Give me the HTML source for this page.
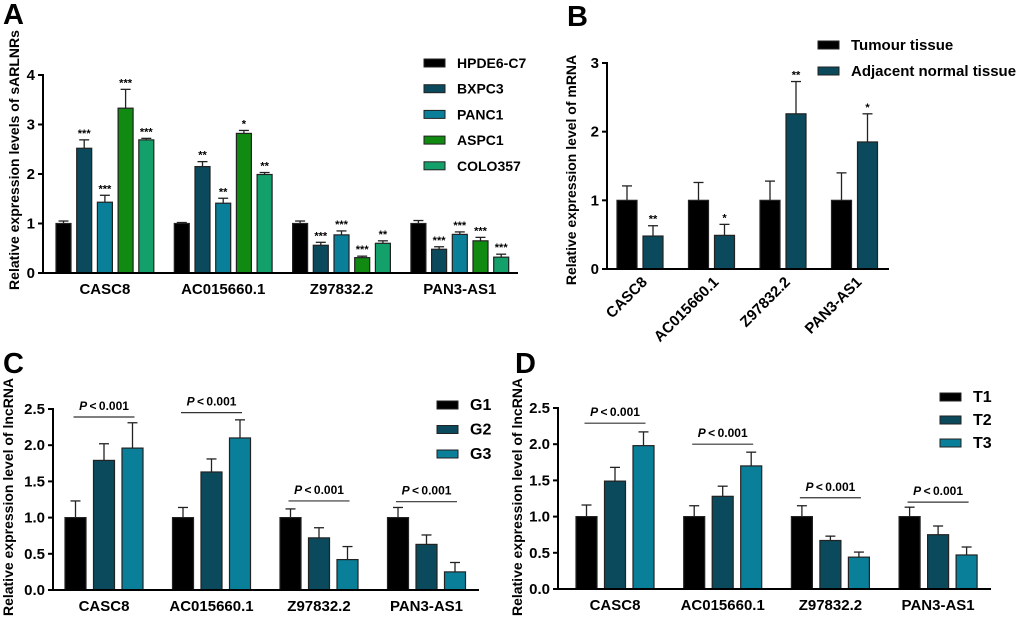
<!DOCTYPE html>
<html><head><meta charset="utf-8">
<style>
html,body{margin:0;padding:0;background:#fff;}
svg{display:block;font-family:"Liberation Sans",Arial,sans-serif;font-weight:bold;}
</style></head>
<body>
<svg id="fig" width="1020" height="619" viewBox="0 0 1020 619"></svg>
<script>
// ---------- Panel A data ----------
const aCategories = ["CASC8","AC015660.1","Z97832.2","PAN3-AS1"];
const aSeriesNames = ["HPDE6-C7","BXPC3","PANC1","ASPC1","COLO357"];
const aHPDE = [1,1,1,1];
const aHPDEErr = [0.05,0.02,0.05,0.06];
const aBXPC3 = [2.52,2.15,0.56,0.48];
const aBXPC3Err = [0.17,0.10,0.06,0.05];
const aPANC1 = [1.43,1.41,0.77,0.78];
const aPANC1Err = [0.14,0.10,0.08,0.05];
const aASPC1 = [3.33,2.82,0.31,0.65];
const aASPC1Err = [0.38,0.06,0.03,0.07];
const aCOLO = [2.69,1.99,0.60,0.32];
const aCOLOErr = [0.03,0.04,0.05,0.06];
const aStars = [["","","",""],["***","**","***","***"],["***","**","***","***"],["***","*","***","***"],["***","**","**","***"]];
const aTicks = ["0","1","2","3","4"];
// ---------- Panel B data ----------
const bCategories = ["CASC8","AC015660.1","Z97832.2","PAN3-AS1"];
const bSeriesNames = ["Tumour tissue","Adjacent normal tissue"];
const bTumour = [1,1,1,1];
const bTumourErr = [0.21,0.26,0.28,0.40];
const bAdjacent = [0.48,0.49,2.26,1.85];
const bAdjacentErr = [0.15,0.16,0.47,0.41];
const bStars = [["","","",""],["**","*","**","*"]];
const bTicks = ["0","1","2","3"];
// ---------- Panel C data ----------
const cCategories = ["CASC8","AC015660.1","Z97832.2","PAN3-AS1"];
const cSeriesNames = ["G1","G2","G3"];
const cG1 = [1,1,1,1];
const cG1Err = [0.23,0.14,0.12,0.14];
const cG2 = [1.79,1.63,0.72,0.63];
const cG2Err = [0.23,0.18,0.14,0.13];
const cG3 = [1.96,2.10,0.42,0.25];
const cG3Err = [0.35,0.25,0.18,0.13];
const cTicks = ["0.0","0.5","1.0","1.5","2.0","2.5"];
// ---------- Panel D data ----------
const dCategories = ["CASC8","AC015660.1","Z97832.2","PAN3-AS1"];
const dSeriesNames = ["T1","T2","T3"];
const dT1 = [1,1,1,1];
const dT1Err = [0.16,0.15,0.15,0.13];
const dT2 = [1.49,1.28,0.67,0.75];
const dT2Err = [0.19,0.14,0.06,0.12];
const dT3 = [1.98,1.70,0.44,0.47];
const dT3Err = [0.19,0.19,0.07,0.11];
const dTicks = ["0.0","0.5","1.0","1.5","2.0","2.5"];

const NS="http://www.w3.org/2000/svg";
const svg=document.getElementById('fig');
function mk(tag,attrs,parent,text){const e=document.createElementNS(NS,tag);for(const k in attrs)e.setAttribute(k,attrs[k]);if(text!==undefined)e.textContent=text;(parent||svg).appendChild(e);return e;}

const BLACK="#000",NAVY="#0b4a5c",TEAL="#0a7f9a",GREEN="#118a11",MINT="#14a06a";

function panel(cfg){
  const g=mk('g',{});
  
  
  const y=v=>cfg.y0-(v/cfg.ymax)*(cfg.y0-cfg.ytop);
  const lab=mk('text',{x:cfg.letter[1],y:cfg.letter[2],'font-size':29},g,cfg.letter[0]);
  
  
  const yt=mk('text',{transform:`translate(${cfg.ytitle[0]},${cfg.ytitle[1]}) rotate(-90)`,'text-anchor':'middle','font-size':14},g,cfg.ytitle[2]);
  
  
  const n=cfg.series.length;
  cfg.categories.forEach((c,ci)=>{
    const gc=cfg.x0+cfg.groupStart+ci*cfg.groupStep;
    cfg.series.forEach((s,si)=>{
      const bx=gc+si*cfg.barStep;
      const v=s.vals[ci],e=s.err[ci];
      const top=y(v+e);
      const el=mk('line',{x1:bx+cfg.barW/2,x2:bx+cfg.barW/2,y1:y(v),y2:top,stroke:'#222','stroke-width':1.3},g);
      
      
      const cap=mk('line',{x1:bx+cfg.barW/2-5,x2:bx+cfg.barW/2+5,y1:top,y2:top,stroke:'#222','stroke-width':1.3},g);
      
      
      const r=mk('rect',{x:bx,y:y(v),width:cfg.barW,height:cfg.y0-y(v),fill:s.color,stroke:'#222','stroke-width':1.2},g);
      
      
      if(s.stars&&s.stars[ci]){
        const st=mk('text',{x:bx+cfg.barW/2,y:top-3,'text-anchor':'middle','font-size':11},g,s.stars[ci]);
        
        
      }
    });
    const lx=gc+((n-1)*cfg.barStep+cfg.barW)/2;
    let t;
    if(cfg.rotate){
      t=mk('text',{transform:`translate(${lx+8},${cfg.y0+14}) rotate(-45)`,'text-anchor':'end','font-size':15},g,c);
    } else {
      t=mk('text',{x:lx,y:cfg.y0+21,'text-anchor':'middle','font-size':15},g,c);
    }
    
    
    if(cfg.brackets){
      const br=cfg.brackets[ci];
      const ly=y(br);
      const l=mk('line',{x1:gc+cfg.barW/2-2,x2:gc+(n-1)*cfg.barStep+cfg.barW/2+2,y1:ly,y2:ly,stroke:'#333','stroke-width':1.2},g);
      
      
      const pt=mk('text',{x:lx,y:ly-7,'text-anchor':'middle','font-size':12},g);
      
      
      mk('tspan',{'font-style':'italic'},pt,'P');
      mk('tspan',{},pt,'\u2009<\u20090.001');
    }
  });
  const ya=mk('line',{x1:cfg.x0,x2:cfg.x0,y1:cfg.ytop-1,y2:cfg.y0+1,stroke:'#000','stroke-width':2},g);
  
  
  const xa=mk('line',{x1:cfg.x0-1,x2:cfg.xend,y1:cfg.y0,y2:cfg.y0,stroke:'#000','stroke-width':2},g);
  
  
  cfg.ticks.forEach(tl=>{
    const v=parseFloat(tl),ty=y(v);
    const tk=mk('line',{x1:cfg.x0-5,x2:cfg.x0,y1:ty,y2:ty,stroke:'#000','stroke-width':2},g);
    
    
    const tt=mk('text',{x:cfg.x0-8,y:ty+5,'text-anchor':'end','font-size':15},g,tl);
    
    
  });
  cfg.series.forEach((s,si)=>{
    const ly=cfg.legend[1]+si*cfg.legend[2];
    const sw=mk('rect',{x:cfg.legend[0],y:ly-4,width:21,height:8,fill:s.color,stroke:'#222','stroke-width':1},g);
    
    
    const lt=mk('text',{x:cfg.legend[0]+33,y:ly+5,'font-size':cfg.legendFont||15},g,s.name);
    
    
  });
}

panel({name:'panel-a',letter:['A',3,24],ytitle:[19,160,'Relative expression levels of sARLNRs'],
  x0:43,y0:273,ytop:75,ymax:4,xend:518,groupStart:13,groupStep:118.3,barW:15,barStep:20.7,
  categories:aCategories,ticks:aTicks,legend:[424,63,25.7],legendFont:14,
  series:[{name:aSeriesNames[0],vals:aHPDE,err:aHPDEErr,color:BLACK,stars:aStars[0]},
          {name:aSeriesNames[1],vals:aBXPC3,err:aBXPC3Err,color:NAVY,stars:aStars[1]},
          {name:aSeriesNames[2],vals:aPANC1,err:aPANC1Err,color:TEAL,stars:aStars[2]},
          {name:aSeriesNames[3],vals:aASPC1,err:aASPC1Err,color:GREEN,stars:aStars[3]},
          {name:aSeriesNames[4],vals:aCOLO,err:aCOLOErr,color:MINT,stars:aStars[4]}]});

panel({name:'panel-b',letter:['B',567,26],ytitle:[576,170,'Relative expression level of mRNA'],
  x0:607,y0:269,ytop:63,ymax:3,xend:889,groupStart:10,groupStep:71.5,barW:20,barStep:26,rotate:true,
  categories:bCategories,ticks:bTicks,legend:[818,45,26],legendFont:15,
  series:[{name:bSeriesNames[0],vals:bTumour,err:bTumourErr,color:BLACK,stars:bStars[0]},
          {name:bSeriesNames[1],vals:bAdjacent,err:bAdjacentErr,color:NAVY,stars:bStars[1]}]});

panel({name:'panel-c',letter:['C',3,373],ytitle:[13,497,'Relative expression level of lncRNA'],
  x0:53,y0:590,ytop:409,ymax:2.5,xend:479,groupStart:12,groupStep:107.5,barW:21,barStep:28.5,
  categories:cCategories,ticks:cTicks,legend:[437,405,24.5],legendFont:16,brackets:[2.39,2.45,1.23,1.22],
  series:[{name:cSeriesNames[0],vals:cG1,err:cG1Err,color:BLACK},
          {name:cSeriesNames[1],vals:cG2,err:cG2Err,color:NAVY},
          {name:cSeriesNames[2],vals:cG3,err:cG3Err,color:TEAL}]});

panel({name:'panel-d',letter:['D',515,373],ytitle:[522,497,'Relative expression level of lncRNA'],
  x0:558,y0:589,ytop:408,ymax:2.5,xend:991,groupStart:18,groupStep:107.7,barW:21,barStep:28.5,
  categories:dCategories,ticks:dTicks,legend:[940,397,23],legendFont:16,brackets:[2.29,2.0,1.26,1.2],
  series:[{name:dSeriesNames[0],vals:dT1,err:dT1Err,color:BLACK},
          {name:dSeriesNames[1],vals:dT2,err:dT2Err,color:NAVY},
          {name:dSeriesNames[2],vals:dT3,err:dT3Err,color:TEAL}]});
</script>
</body></html>
